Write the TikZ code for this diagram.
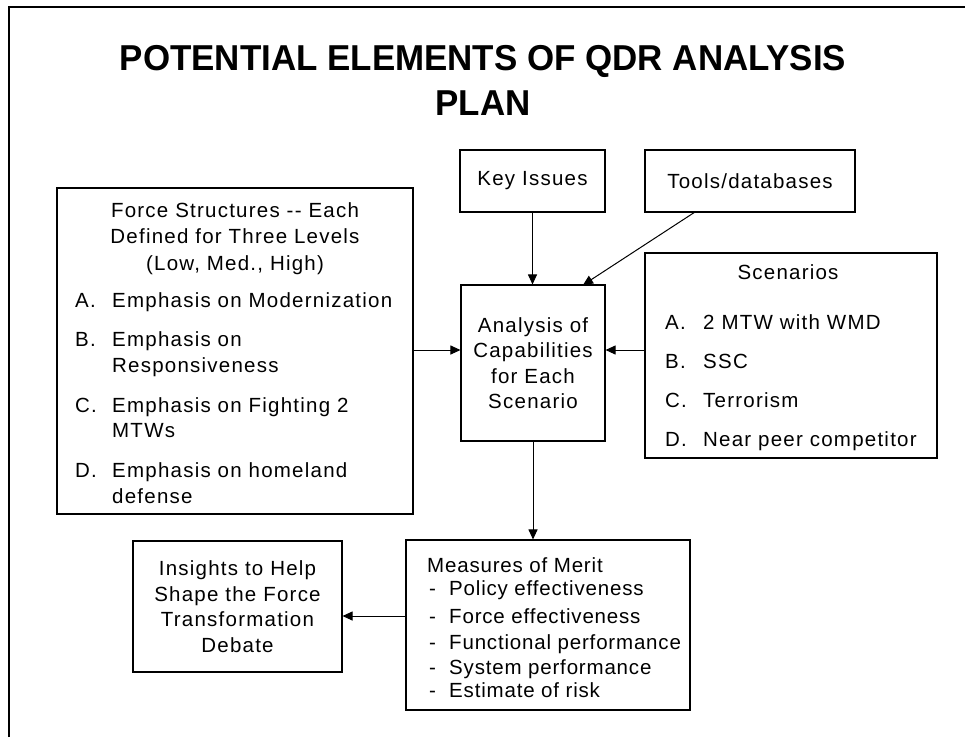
\documentclass[tikz,border=0pt]{standalone}
\usepackage{fontspec}
\setmainfont{Liberation Sans}
\newfontfamily\bodyfont[LetterSpace=6]{Liberation Sans}
\newfontfamily\listfont[LetterSpace=4]{Liberation Sans}
\usetikzlibrary{arrows.meta}

\begin{document}
\begin{tikzpicture}[x=1pt,y=-1pt,
  box/.style={draw, line width=1.1pt, inner sep=0pt, align=center,
    font=\bodyfont\fontsize{20.5}{25.5}\selectfont},
  txt/.style={inner sep=0pt, anchor=base west,
    font=\bodyfont\fontsize{20.5}{25}\selectfont},
  ctxt/.style={txt, anchor=base},
  mtxt/.style={txt, font=\listfont\fontsize{20.5}{25}\selectfont},
  conn/.style={line width=1pt, -{Triangle[length=10pt,width=9pt]}},
  frameline/.style={line width=2.2pt},
]
\useasboundingbox (0,0) rectangle (965,737);

% sheet frame (top and left edges)
\coordinate (f1) at (9,737);
\coordinate (f2) at (9,7);
\coordinate (f3) at (965,7);
\draw[frameline] (f1) -- (f2) -- (f3);

% heading
\node[inner sep=0pt, align=center,
  font=\bfseries\fontsize{36}{45}\selectfont] (title) at (483,80)
  {\scalebox{0.97}[1]{POTENTIAL ELEMENTS OF QDR ANALYSIS}\\
   \scalebox{0.97}[1]{PLAN}};

% boxes
\node[box, minimum width=145pt, minimum height=62pt] (keys) at (532.5,181) {Key Issues};
\node[box, minimum width=210pt, minimum height=62pt] (tools) at (750,181) {Tools/databases};
\node[box, minimum width=144pt, minimum height=156pt] (anal) at (533,363)
  {Analysis of\\Capabilities\\for Each\\Scenario};
\node[box, minimum width=356pt, minimum height=326pt] (force) at (235,351) {};
\node[box, minimum width=292pt, minimum height=205pt] (scen) at (791,355.5) {};
\node[box, minimum width=284pt, minimum height=170pt] (meas) at (548,625) {};
\node[box, minimum width=209pt, minimum height=131pt] (ins) at (237.5,606.5)
  {Insights to Help\\Shape the Force\\Transformation\\Debate};

% force structure texts
\node[ctxt] (fs1) at (235,217) {Force Structures -- Each};
\node[ctxt] (fs2) at (235,243) {Defined for Three Levels};
\node[ctxt] (fs3) at (235,270) {(Low, Med., High)};
\node[txt] (fa) at (75,307) {A.};
\node[txt] (fat) at (112,307) {Emphasis on Modernization};
\node[txt] (fb) at (75,346) {B.};
\node[txt] (fbt) at (112,346) {Emphasis on};
\node[txt] (fbt2) at (112,372) {Responsiveness};
\node[txt] (fc) at (75,412) {C.};
\node[txt] (fct) at (112,412) {Emphasis on Fighting 2};
\node[txt] (fct2) at (112,437) {MTWs};
\node[txt] (fd) at (75,477) {D.};
\node[txt] (fdt) at (112,477) {Emphasis on homeland};
\node[txt] (fdt2) at (112,503) {defense};

% scenario texts
\node[ctxt] (sh) at (788,279) {Scenarios};
\node[txt] (sa) at (665,329) {A.};
\node[txt] (sat) at (703,329) {2 MTW with WMD};
\node[txt] (sb) at (665,368) {B.};
\node[txt] (sbt) at (703,368) {SSC};
\node[txt] (sc) at (665,407) {C.};
\node[txt] (sct) at (703,407) {Terrorism};
\node[txt] (sd) at (665,446) {D.};
\node[txt] (sdt) at (703,446) {Near peer competitor};

% measures of merit texts
\node[mtxt] (mh) at (427,572) {Measures of Merit};
\node[mtxt] (m1) at (429,595) {-};
\node[mtxt] (m1t) at (449,595) {Policy effectiveness};
\node[mtxt] (m2) at (429,623) {-};
\node[mtxt] (m2t) at (449,623) {Force effectiveness};
\node[mtxt] (m3) at (429,649) {-};
\node[mtxt] (m3t) at (449,649) {Functional performance};
\node[mtxt] (m4) at (429,674) {-};
\node[mtxt] (m4t) at (449,674) {System performance};
\node[mtxt] (m5) at (429,697) {-};
\node[mtxt] (m5t) at (449,697) {Estimate of risk};

% connectors
\coordinate (tl) at (695,212);
\draw[conn] (keys.south) -- (keys.south |- anal.north);
\draw[conn] (tl) -- (583,285);
\draw[conn] (force.east |- 0,350) -- (anal.west |- 0,350);
\draw[conn] (scen.west |- 0,350) -- (anal.east |- 0,350);
\draw[conn] (anal.south) -- (anal.south |- meas.north);
\draw[conn] (meas.west |- 0,616) -- (ins.east |- 0,616);
\end{tikzpicture}
\end{document}
